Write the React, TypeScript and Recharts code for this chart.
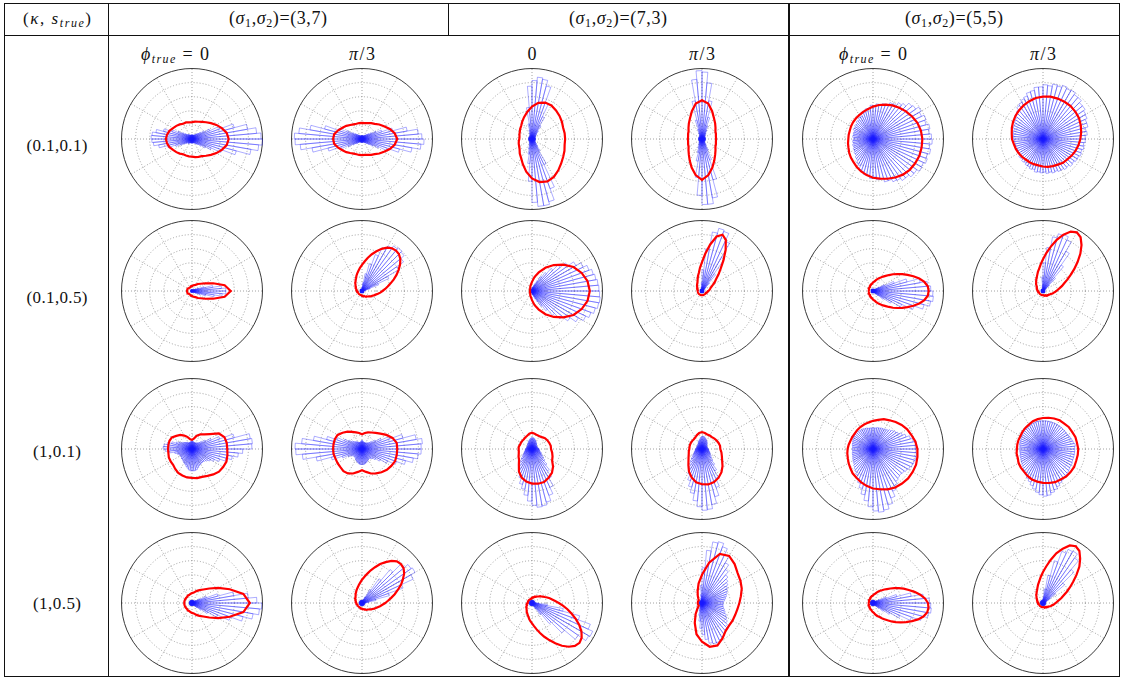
import React from 'react';
import { RadarChart, Radar, PolarGrid, PolarAngleAxis, PolarRadiusAxis } from 'recharts';

// ---------- labels ----------
const rowLabels = ['(0.1,0.1)', '(0.1,0.5)', '(1,0.1)', '(1,0.5)'];
const sigmaPairs = ['(3,7)', '(7,3)', '(5,5)'];
const phiLabels = ['phi0', 'pi3', '0', 'pi3', 'phi0', 'pi3'];

// ---------- red curves: radius (fraction of outer ring), evenly spaced angles from 0 deg ----------
const curve11 = [.52,.50,.45,.40,.35,.31,.28,.26,.25,.24,.24,.25,.25,.27,.29,.31,.34,.36,.37,.36,.34,.31,.29,.27,.25,.25,.25,.25,.26,.27,.28,.31,.35,.40,.45,.50];
const curve12 = [.50,.47,.42,.36,.32,.28,.26,.24,.23,.23,.23,.23,.24,.26,.29,.32,.36,.40,.41,.40,.36,.32,.29,.26,.24,.23,.23,.23,.23,.24,.26,.28,.32,.36,.42,.47];
const curve13 = [.47,.47,.47,.49,.51,.53,.55,.55,.52,.46,.39,.33,.28,.24,.22,.20,.19,.18,.18,.19,.20,.21,.23,.27,.31,.38,.47,.56,.62,.64,.62,.58,.54,.51,.49,.47];
const curve14 = [.20,.20,.21,.22,.25,.29,.34,.42,.51,.55,.51,.42,.34,.29,.25,.22,.21,.20,.20,.20,.21,.22,.25,.29,.35,.43,.52,.58,.52,.43,.35,.29,.25,.22,.21,.20];
const curve15 = [.70,.69,.67,.64,.61,.58,.55,.52,.49,.46,.43,.41,.39,.38,.37,.36,.35,.35,.35,.36,.37,.39,.41,.43,.46,.49,.52,.55,.57,.60,.63,.66,.68,.69,.70,.70];
const curve16 = [.53,.55,.57,.59,.60,.61,.61,.61,.61,.60,.59,.57,.55,.53,.51,.49,.47,.45,.44,.42,.41,.40,.39,.38,.38,.38,.38,.39,.40,.41,.42,.44,.45,.47,.49,.51];

const curve21 = [.55,.47,.32,.22,.16,.13,.10,.09,.08,.07,.07,.06,.06,.06,.06,.07,.07,.07,.07,.07,.07,.07,.06,.06,.06,.06,.07,.07,.08,.09,.10,.13,.16,.22,.32,.47];
const curve22 = [.29,.33,.37,.42,.48,.54,.60,.66,.71,.74,
  .75,.74,.71,.66,.60,.54,.48,.42,.37,.33,.29,.26,.23,.20,.18,.16,.15,.13,.12,.11,.10,.10,.09,.08,.08,.08,.07,.07,.07,.06,.06,.06,.06,.06,.06,.06,.06,
  .06,.06,.06,.06,.06,.06,.06,.07,.07,.07,.08,.08,.08,.09,.10,.10,.11,.12,.13,.15,.16,.18,.20,.23,.26];
const curve23 = [.82,.80,.75,.68,.58,.48,.38,.28,.20,.13,.09,.07,.05,.04,.04,.03,.03,.03,.03,.03,.03,.03,.04,.04,.05,.07,.09,.13,.20,.28,.38,.48,.58,.68,.75,.80];
const curve24 = [.09,.10,.11,.12,.13,.15,.18,.22,.26,.33,.41,.53,.67,.80,
  .85,.80,.67,.53,.41,.33,.26,.22,.18,.15,.13,.12,.11,.10,.09,.08,.08,.07,.07,.07,
  .06,.06,.06,.06,.06,.06,.06,.06,.06,.06,.06,.06,.06,.06,.06,.06,.06,
  .06,.06,.06,.06,.06,.06,.06,.06,.06,.06,.06,.06,.06,.06,.06,.06,.07,.07,.07,.08,.08];
const curve25 = [.79,.78,.74,.68,.61,.54,.48,.42,.37,.32,.28,.25,.22,.20,.18,.16,.14,.13,.12,.11,.10,.10,.09,.09,.08,.08,.07,.07,.07,.07,.07,.06,.06,.06,.06,.06,.06,
  .06,.06,.06,.06,.06,.07,.07,.07,.07,.07,.08,.08,.09,.09,.10,.10,.11,.12,.13,.14,.16,.18,.20,.22,.25,.28,.32,.37,.42,.48,.54,.61,.68,.74,.78];
const curve26 = [.19,.21,.24,.28,.32,.38,.45,.54,.64,.75,.85,.93,
  .96,.93,.85,.75,.64,.54,.45,.38,.32,.28,.24,.21,.19,.17,.15,.14,.12,.11,.10,.10,.09,.09,.08,.08,.07,.07,.07,.07,.06,.06,.06,.06,.06,.06,.06,.06,.06,
  .06,.06,.06,.06,.06,.06,.06,.06,.07,.07,.07,.07,.08,.08,.09,.09,.10,.10,.11,.12,.14,.15,.17];

const curve31 = [.50,.50,.49,.44,.33,.27,.24,.20,.15,.13,.14,.18,.22,.26,.29,.33,.34,.34,.34,.34,.35,.35,.35,.37,.39,.40,.41,.41,.42,.42,.44,.47,.50,.51,.52,.51];
const curve32 = [.50,.50,.46,.40,.34,.30,.27,.25,.23,.21,.23,.25,.28,.32,.36,.40,.41,.41,.41,.41,.40,.40,.40,.41,.40,.37,.33,.30,.33,.37,.40,.43,.46,.48,.50,.50];
const curve33 = [.27,.27,.26,.25,.24,.22,.21,.21,.22,.23,.22,.20,.19,.18,.18,.18,.18,.19,.19,.19,.20,.22,.24,.29,.37,.43,.47,.49,.50,.50,.47,.44,.39,.33,.31,.29];
const curve34 = [.26,.26,.25,.24,.23,.22,.22,.22,.23,.24,.23,.21,.19,.18,.18,.18,.18,.18,.18,.19,.20,.22,.25,.30,.37,.43,.48,.50,.51,.50,.47,.43,.38,.33,.30,.28];
const curve35 = [.63,.61,.58,.56,.53,.50,.47,.45,.42,.40,.38,.37,.36,.35,.34,.34,.34,.35,.36,.37,.38,.40,.42,.45,.47,.50,.53,.56,.58,.61,.63,.64,.65,.65,.65,.64];
const curve36 = [.50,.49,.49,.48,.48,.47,.47,.46,.45,.44,.43,.42,.40,.39,.38,.37,.37,.37,.37,.38,.38,.40,.41,.42,.44,.46,.47,.48,.49,.50,.50,.51,.51,.51,.50,.50];

const curve41 = [.82,.74,.57,.43,.32,.25,.21,.18,.15,.14,.13,.12,.12,.11,.11,.11,.11,.11,.11,.11,.11,.11,.11,.11,.12,.12,.13,.14,.15,.18,.21,.25,.32,.43,.57,.74];
const curve42 = [.33,.37,.42,.48,.54,.61,.67,.73,.77,
  .78,.77,.73,.67,.61,.54,.48,.42,.37,.33,.29,.26,.23,.21,.19,.17,.16,.14,.13,.12,.12,.11,.10,.10,.09,.09,.09,.08,.08,.08,.08,.07,.07,.07,.07,.07,.07,
  .07,.07,.07,.07,.07,.08,.08,.08,.08,.09,.09,.09,.10,.10,.11,.12,.12,.13,.14,.16,.17,.19,.21,.23,.26,.29];
const curve43 = [.38,.33,.29,.26,.23,.20,.18,.16,.15,.13,.12,.11,.10,.10,.09,.08,.08,.08,.07,.07,.06,.06,.06,.06,.06,.06,.06,.06,.06,
  .06,.06,.06,.06,.06,.06,.06,.06,.07,.07,.08,.08,.08,.09,.10,.10,.11,.12,.13,.15,.16,.18,.20,.23,.26,.29,.33,.38,.44,.51,.58,.66,.74,.81,.86,
  .88,.86,.81,.74,.66,.58,.51,.44];
const curve44 = [.53,.56,.60,.63,.66,.72,.77,.74,.58,.40,.28,.18,.12,.08,.06,.06,.06,.06,.06,.06,.06,.06,.06,.10,.18,.30,.45,.55,.63,.64,.58,.52,.50,.50,.50,.51];
const curve45 = [.78,.74,.68,.61,.54,.48,.42,.37,.32,.28,.25,.22,.20,.18,.16,.14,.13,.12,.11,.10,.10,.09,.09,.08,.08,.07,.07,.07,.07,.07,.06,.06,.06,.06,.06,.06,
  .06,.06,.06,.06,.06,.07,.07,.07,.07,.07,.08,.08,.09,.09,.10,.10,.11,.12,.13,.14,.16,.18,.20,.22,.25,.28,.32,.37,.42,.48,.54,.61,.68,.74,.78,.79];
const curve46 = [.18,.20,.23,.27,.31,.37,.44,.52,.62,.73,.82,.90,
  .93,.90,.82,.73,.62,.52,.44,.37,.31,.27,.23,.20,.18,.16,.15,.13,.12,.11,.10,.09,.09,.08,.08,.07,.07,.07,.07,.06,.06,.06,.06,.06,.06,.06,.06,.06,.06,
  .06,.06,.06,.06,.06,.06,.06,.06,.06,.07,.07,.07,.07,.08,.08,.09,.09,.10,.11,.12,.13,.15,.16];

// ---------- blue rose histograms: 72 bins of 5 deg, 0..360 ----------
const rose11 = [.98,.92,.80,.62,.42,.28,.20,.15,.12,.10,.08,.08,.06,.06,.06,.06,.06,.06,
  .06,.06,.06,.06,.06,.06,.08,.08,.08,.10,.12,.16,.22,.30,.42,.52,.57,.58,
  .57,.55,.48,.36,.25,.18,.13,.10,.08,.08,.08,.08,.06,.06,.06,.06,.06,.06,
  .06,.06,.06,.06,.06,.06,.08,.08,.10,.12,.16,.22,.30,.45,.65,.85,.95,1.0];
const rose12 = [.85,.80,.65,.45,.30,.22,.16,.12,.10,.08,.07,.06,.05,.05,.05,.05,.05,.05,
  .05,.05,.05,.05,.05,.05,.06,.07,.08,.10,.12,.16,.24,.36,.55,.75,.90,.96,
  .95,.88,.72,.50,.32,.22,.15,.11,.09,.07,.06,.05,.05,.05,.05,.05,.05,.05,
  .05,.05,.05,.05,.05,.05,.06,.07,.08,.10,.13,.18,.26,.38,.55,.72,.84,.88];
const rose13 = [.05,.05,.05,.05,.05,.05,.06,.07,.08,.10,.14,.22,.35,.55,.78,.86,.88,.83,
  .75,.45,.22,.13,.09,.07,.06,.05,.05,.05,.05,.05,.05,.05,.05,.05,.05,.05,
  .05,.05,.05,.05,.05,.05,.05,.05,.05,.05,.06,.07,.08,.10,.15,.22,.35,.60,
  .90,.96,.96,.92,.75,.40,.20,.13,.09,.07,.06,.05,.05,.05,.05,.05,.05,.05];
const rose14 = [.05,.05,.05,.05,.05,.05,.05,.05,.06,.07,.08,.10,.14,.20,.32,.55,.80,.95,
  .97,.85,.55,.28,.15,.10,.07,.06,.05,.05,.05,.05,.05,.05,.05,.05,.05,.05,
  .05,.05,.05,.05,.05,.05,.05,.05,.05,.06,.07,.08,.10,.14,.20,.32,.55,.80,
  .93,.93,.85,.60,.32,.18,.11,.08,.06,.05,.05,.05,.05,.05,.05,.05,.05,.05];
const rose15 = [.83,.80,.82,.78,.80,.76,.79,.74,.72,.66,.63,.58,.57,.53,.52,.49,.50,.47,
  .48,.44,.44,.40,.40,.36,.36,.33,.34,.31,.32,.30,.31,.28,.29,.28,.29,.27,
  .28,.29,.28,.30,.29,.31,.31,.33,.33,.36,.37,.41,.42,.47,.48,.52,.52,.56,
  .54,.58,.58,.63,.63,.67,.68,.72,.72,.76,.76,.80,.79,.82,.80,.83,.81,.84];
const rose16 = [.60,.63,.62,.66,.66,.69,.70,.73,.73,.77,.77,.80,.79,.81,.78,.79,.76,.77,
  .74,.74,.70,.69,.65,.63,.60,.58,.54,.52,.48,.47,.45,.45,.43,.43,.42,.42,
  .41,.42,.40,.41,.39,.41,.40,.42,.41,.43,.42,.44,.44,.46,.45,.48,.47,.48,
  .47,.49,.48,.50,.49,.51,.51,.53,.52,.55,.54,.56,.56,.58,.57,.59,.58,.60];

const rose21 = [.48,.42,.30,.18,.10,.06,.04,.03,.03,.02,.02,.02,.02,.02,.02,.02,.02,.02,
  .02,.02,.02,.02,.02,.02,.02,.02,.02,.02,.02,.02,.02,.02,.02,.02,.02,.02,
  .02,.02,.02,.02,.02,.02,.02,.02,.02,.02,.02,.02,.02,.02,.02,.02,.02,.02,
  .02,.02,.02,.02,.02,.02,.02,.02,.02,.03,.03,.04,.07,.12,.20,.32,.43,.48];
const rose22 = [.03,.04,.06,.12,.25,.42,.60,.72,.78,.80,.78,.74,.68,.55,.40,.25,.12,.06,
  .04,.03,.03,.03,.03,.03,.03,.03,.03,.03,.03,.03,.03,.03,.03,.03,.03,.03,
  .03,.03,.03,.03,.03,.03,.03,.03,.03,.03,.03,.03,.03,.03,.03,.03,.03,.03,
  .03,.03,.03,.03,.03,.03,.03,.03,.03,.03,.03,.03,.03,.03,.03,.03,.03,.03];
const rose23 = [.95,.94,.92,.90,.86,.80,.72,.62,.52,.42,.32,.24,.16,.11,.08,.06,.05,.04,
  .03,.03,.03,.03,.03,.03,.03,.03,.03,.03,.03,.03,.03,.03,.03,.03,.03,.03,
  .03,.03,.03,.03,.03,.03,.03,.03,.03,.03,.03,.03,.03,.03,.03,.03,.03,.03,
  .04,.05,.06,.08,.12,.17,.25,.34,.45,.56,.66,.76,.84,.89,.93,.96,.97,.96];
const rose24 = [.03,.03,.03,.03,.03,.03,.04,.05,.08,.15,.30,.55,.78,.90,.92,.85,.60,.30,
  .12,.06,.04,.03,.03,.03,.03,.03,.03,.03,.03,.03,.03,.03,.03,.03,.03,.03,
  .03,.03,.03,.03,.03,.03,.03,.03,.03,.03,.03,.03,.03,.03,.03,.03,.03,.03,
  .03,.03,.03,.03,.03,.03,.03,.03,.03,.03,.03,.03,.03,.03,.03,.03,.03,.03];
const rose25 = [.82,.78,.68,.50,.32,.18,.10,.06,.04,.03,.03,.03,.03,.03,.03,.03,.03,.03,
  .03,.03,.03,.03,.03,.03,.03,.03,.03,.03,.03,.03,.03,.03,.03,.03,.03,.03,
  .03,.03,.03,.03,.03,.03,.03,.03,.03,.03,.03,.03,.03,.03,.03,.03,.03,.03,
  .03,.03,.03,.03,.03,.03,.03,.04,.06,.10,.18,.30,.45,.62,.75,.83,.86,.85];
const rose26 = [.03,.03,.03,.03,.03,.03,.04,.06,.12,.25,.45,.65,.80,.85,.84,.78,.62,.40,
  .20,.08,.04,.03,.03,.03,.03,.03,.03,.03,.03,.03,.03,.03,.03,.03,.03,.03,
  .03,.03,.03,.03,.03,.03,.03,.03,.03,.03,.03,.03,.03,.03,.03,.03,.03,.03,
  .03,.03,.03,.03,.03,.03,.03,.03,.03,.03,.03,.03,.03,.03,.03,.03,.03,.03];

const rose31 = [.85,.86,.84,.62,.42,.30,.22,.17,.14,.12,.11,.10,.10,.10,.10,.10,.11,.12,
  .12,.11,.10,.10,.10,.10,.11,.12,.13,.14,.15,.17,.20,.24,.30,.36,.40,.41,
  .38,.32,.25,.22,.20,.19,.19,.19,.20,.20,.21,.22,.23,.24,.26,.28,.30,.31,
  .31,.31,.30,.28,.26,.25,.24,.24,.24,.25,.27,.30,.35,.42,.50,.58,.66,.72];
const rose32 = [.84,.86,.78,.60,.42,.30,.22,.17,.14,.12,.11,.10,.10,.10,.10,.10,.11,.12,
  .12,.11,.10,.10,.10,.11,.12,.13,.14,.16,.18,.22,.28,.38,.52,.70,.86,.95,
  .94,.85,.66,.45,.30,.22,.18,.16,.15,.15,.16,.17,.18,.19,.20,.21,.22,.22,
  .22,.22,.21,.20,.19,.18,.17,.17,.18,.20,.24,.30,.40,.52,.64,.74,.80,.84];
const rose33 = [.10,.09,.08,.08,.08,.08,.08,.08,.09,.10,.10,.11,.12,.13,.14,.15,.16,.16,
  .16,.15,.14,.13,.12,.11,.10,.10,.09,.09,.08,.08,.08,.08,.08,.08,.08,.09,
  .09,.10,.10,.11,.12,.13,.15,.17,.20,.24,.28,.33,.38,.44,.52,.58,.66,.74,
  .80,.83,.82,.78,.70,.60,.48,.38,.30,.24,.20,.17,.15,.14,.12,.11,.11,.10];
const rose34 = [.09,.08,.08,.08,.08,.08,.08,.09,.10,.11,.12,.13,.14,.15,.16,.17,.18,.18,
  .17,.16,.14,.13,.12,.11,.10,.09,.09,.08,.08,.08,.08,.08,.08,.08,.08,.09,
  .09,.10,.10,.11,.12,.13,.15,.17,.20,.24,.28,.33,.40,.48,.56,.64,.74,.82,
  .87,.86,.80,.70,.58,.46,.36,.28,.22,.18,.16,.14,.13,.12,.11,.10,.10,.09];
const rose35 = [.60,.62,.58,.55,.50,.46,.42,.40,.38,.36,.34,.33,.32,.32,.31,.31,.30,.30,
  .30,.30,.30,.31,.31,.32,.32,.32,.33,.33,.33,.32,.32,.31,.30,.30,.29,.29,
  .29,.29,.30,.30,.31,.32,.33,.34,.36,.38,.40,.43,.47,.52,.58,.66,.74,.82,
  .88,.90,.88,.82,.74,.66,.60,.56,.54,.53,.54,.56,.58,.60,.61,.62,.62,.61];
const rose36 = [.45,.46,.44,.43,.42,.41,.40,.40,.40,.40,.40,.40,.40,.40,.40,.40,.40,.40,
  .40,.40,.40,.39,.39,.38,.38,.37,.37,.36,.36,.35,.35,.34,.34,.34,.33,.33,
  .33,.33,.33,.34,.34,.35,.36,.37,.38,.40,.42,.44,.47,.50,.54,.58,.62,.65,
  .67,.66,.63,.60,.57,.54,.52,.50,.49,.48,.47,.46,.46,.45,.45,.45,.45,.45];

const rose41 = [.92,.80,.60,.38,.22,.12,.07,.05,.04,.04,.04,.04,.04,.04,.04,.04,.04,.04,
  .04,.04,.04,.04,.04,.04,.04,.04,.04,.04,.04,.04,.04,.04,.04,.04,.04,.04,
  .04,.04,.04,.04,.04,.04,.04,.04,.04,.04,.04,.04,.04,.04,.04,.04,.04,.04,
  .04,.04,.04,.04,.04,.04,.04,.05,.07,.10,.16,.26,.40,.58,.75,.88,.96,.99];
const rose42 = [.06,.10,.20,.40,.62,.80,.87,.85,.78,.62,.42,.22,.10,.06,.04,.04,.04,.04,
  .04,.04,.04,.04,.04,.04,.04,.04,.04,.04,.04,.04,.04,.04,.04,.04,.04,.04,
  .04,.04,.04,.04,.04,.04,.04,.04,.04,.04,.04,.04,.04,.04,.04,.04,.04,.04,
  .04,.04,.04,.04,.04,.04,.04,.04,.04,.04,.04,.04,.04,.04,.04,.04,.04,.04];
const rose43 = [.06,.04,.04,.04,.04,.04,.04,.04,.04,.04,.04,.04,.04,.04,.04,.04,.04,.04,
  .04,.04,.04,.04,.04,.04,.04,.04,.04,.04,.04,.04,.04,.04,.04,.04,.04,.04,
  .04,.04,.04,.04,.04,.04,.04,.04,.04,.04,.04,.04,.04,.04,.04,.04,.04,.04,
  .04,.04,.04,.04,.04,.06,.10,.20,.38,.60,.80,.93,.95,.88,.70,.45,.22,.10];
const rose44 = [.30,.32,.34,.36,.38,.40,.42,.45,.48,.52,.58,.66,.76,.85,.90,.88,.75,.50,
  .25,.12,.07,.05,.04,.04,.04,.04,.04,.04,.04,.04,.04,.04,.04,.04,.04,.04,
  .04,.04,.04,.04,.04,.04,.04,.04,.04,.04,.04,.05,.06,.08,.12,.18,.26,.36,
  .45,.52,.58,.60,.60,.58,.56,.53,.50,.47,.44,.41,.38,.35,.33,.31,.30,.30];
const rose45 = [.80,.72,.55,.35,.20,.10,.06,.04,.04,.04,.04,.04,.04,.04,.04,.04,.04,.04,
  .04,.04,.04,.04,.04,.04,.04,.04,.04,.04,.04,.04,.04,.04,.04,.04,.04,.04,
  .04,.04,.04,.04,.04,.04,.04,.04,.04,.04,.04,.04,.04,.04,.04,.04,.04,.04,
  .04,.04,.04,.04,.04,.04,.04,.05,.07,.11,.18,.28,.42,.58,.72,.80,.83,.82];
const rose46 = [.04,.04,.04,.04,.05,.07,.12,.22,.40,.62,.78,.85,.84,.78,.62,.40,.20,.08,
  .05,.04,.04,.04,.04,.04,.04,.04,.04,.04,.04,.04,.04,.04,.04,.04,.04,.04,
  .04,.04,.04,.04,.04,.04,.04,.04,.04,.04,.04,.04,.04,.04,.04,.04,.04,.04,
  .04,.04,.04,.04,.04,.04,.04,.04,.04,.04,.04,.04,.04,.04,.04,.04,.04,.04];

const roseRows = [
  [rose11, rose12, rose13, rose14, rose15, rose16],
  [rose21, rose22, rose23, rose24, rose25, rose26],
  [rose31, rose32, rose33, rose34, rose35, rose36],
  [rose41, rose42, rose43, rose44, rose45, rose46],
];
const curveRows = [
  [curve11, curve12, curve13, curve14, curve15, curve16],
  [curve21, curve22, curve23, curve24, curve25, curve26],
  [curve31, curve32, curve33, curve34, curve35, curve36],
  [curve41, curve42, curve43, curve44, curve45, curve46],
];

// ---------- layout ----------
const colX = [192, 362, 532, 702, 873, 1043];
const rowY = [139, 291, 449, 603];
const OUTER = 70.5;
const SIZE = 150;
const gridAngles = [0, 30, 60, 90, 120, 150, 180, 210, 240, 270, 300, 330];
const gridRadii = [OUTER * 0.2, OUTER * 0.4, OUTER * 0.6, OUTER * 0.8];
const FONT = '"Liberation Serif", "DejaVu Serif", serif';

function buildRose(bins: number[]) {
  const w = 360 / bins.length;
  const pts: { a: number; r: number }[] = [];
  bins.forEach((v, i) => {
    pts.push({ a: i * w, r: 0 });
    pts.push({ a: i * w, r: v });
    pts.push({ a: (i + 1) * w, r: v });
  });
  return pts;
}

function buildCurve(vals: number[]) {
  const step = 360 / vals.length;
  return vals.map((v, i) => ({ a: i * step, r: v }));
}

const chartCommon = {
  width: SIZE,
  height: SIZE,
  cx: SIZE / 2,
  cy: SIZE / 2,
  innerRadius: 0,
  outerRadius: OUTER,
  startAngle: 0,
  endAngle: 360,
  margin: { top: 0, right: 0, bottom: 0, left: 0 },
};

function PolarCell({ x, y, bins, curve }: { x: number; y: number; bins: number[]; curve: number[] }) {
  const roseData = buildRose(bins);
  const curveData = buildCurve(curve);
  return (
    <div style={{ position: 'absolute', left: x - SIZE / 2, top: y - SIZE / 2, width: SIZE, height: SIZE }}>
      <div style={{ position: 'absolute', left: 0, top: 0 }}>
        <RadarChart {...chartCommon} data={roseData}>
          <PolarGrid gridType="circle" polarAngles={gridAngles} polarRadius={gridRadii}
            stroke="#8c8c8c" strokeDasharray="1 2" strokeWidth={0.8} />
          <PolarGrid gridType="circle" polarAngles={[0]} radialLines={false} polarRadius={[OUTER]}
            stroke="#3a3a3a" strokeWidth={1} />
          <PolarAngleAxis dataKey="a" type="number" domain={[0, 360]} tick={false} axisLine={false} />
          <PolarRadiusAxis type="number" domain={[0, 1]} tick={false} axisLine={false} />
          <Radar dataKey="r" stroke="#1a1aff" strokeWidth={0.6} strokeOpacity={0.6}
            fill="none" fillOpacity={0} dot={false} isAnimationActive={false} />
        </RadarChart>
      </div>
      <div style={{ position: 'absolute', left: 0, top: 0 }}>
        <RadarChart {...chartCommon} data={curveData}>
          <PolarAngleAxis dataKey="a" type="number" domain={[0, 360]} tick={false} axisLine={false} />
          <PolarRadiusAxis type="number" domain={[0, 1]} tick={false} axisLine={false} />
          <Radar dataKey="r" stroke="#ff0000" strokeWidth={2.2} fill="none" fillOpacity={0}
            dot={false} isAnimationActive={false} />
        </RadarChart>
      </div>
    </div>
  );
}

function Line({ x, y, w, h, c = '#111' }: { x: number; y: number; w: number; h: number; c?: string }) {
  return <div style={{ position: 'absolute', left: x, top: y, width: w, height: h, background: c }} />;
}

const SUB = 12;

function SigmaText({ x, pair }: { x: number; pair: string }) {
  return (
    <text x={x} y={24} textAnchor="middle" fontSize={18} textLength={98} lengthAdjust="spacing">
      <tspan>(</tspan><tspan fontStyle="italic">σ</tspan><tspan fontSize={SUB} dy={3}>1</tspan><tspan dy={-3}>,</tspan><tspan fontStyle="italic">σ</tspan><tspan fontSize={SUB} dy={3}>2</tspan><tspan dy={-3}>{')=' + pair}</tspan>
    </text>
  );
}

function PhiText({ x, kind }: { x: number; kind: string }) {
  if (kind === 'phi0') {
    return (
      <text x={x} y={60} textAnchor="middle" fontSize={18} textLength={68} lengthAdjust="spacing">
        <tspan fontStyle="italic">ϕ</tspan><tspan fontStyle="italic" fontSize={SUB} dy={3}>true</tspan><tspan dy={-3}> = 0</tspan>
      </text>
    );
  }
  if (kind === 'pi3') {
    return (
      <text x={x} y={60} textAnchor="middle" fontSize={18} textLength={26} lengthAdjust="spacing">
        <tspan fontStyle="italic">π</tspan><tspan>/3</tspan>
      </text>
    );
  }
  return <text x={x} y={60} textAnchor="middle" fontSize={18}>{kind}</text>;
}

export default function App() {
  const sigmaX = [278, 618, 954];
  const phiX = [175, 362, 532, 702, 873, 1043];
  const rowLabelY = [151, 303, 457, 609];
  const rowLabelW = [61, 61, 48, 48];
  return (
    <div style={{ position: 'absolute', left: 0, top: 0, width: 1123, height: 678, background: '#fff', overflow: 'hidden' }}>
      {/* table rules */}
      <Line x={4} y={3} w={1116} h={1} />
      <Line x={4} y={35} w={1116} h={1} />
      <Line x={4} y={676} w={1116} h={1} />
      <Line x={4} y={3} w={1} h={674} />
      <Line x={108} y={3} w={1} h={674} />
      <Line x={448} y={3} w={1} h={33} />
      <Line x={788} y={3} w={2} h={674} />
      <Line x={1119} y={3} w={1} h={674} />

      {/* polar plots */}
      {rowY.map((cy, r) =>
        colX.map((cx, c) => (
          <PolarCell key={`${r}-${c}`} x={cx} y={cy} bins={roseRows[r][c]} curve={curveRows[r][c]} />
        ))
      )}

      {/* text */}
      <svg width={1123} height={678} style={{ position: 'absolute', left: 0, top: 0, pointerEvents: 'none' }}
        fontFamily={FONT} fontSize={17} fill="#111">
        <text x={57} y={24} textAnchor="middle" textLength={68} lengthAdjust="spacing">
          <tspan>(</tspan><tspan fontStyle="italic">κ</tspan><tspan>, </tspan><tspan fontStyle="italic">s</tspan><tspan fontStyle="italic" fontSize={SUB} dy={3}>true</tspan><tspan dy={-3}>)</tspan>
        </text>
        {sigmaPairs.map((p, i) => <SigmaText key={'s' + i} x={sigmaX[i]} pair={p} />)}
        {phiLabels.map((k, i) => <PhiText key={'p' + i} x={phiX[i]} kind={k} />)}
        {rowLabels.map((t, i) => (
          <text key={t} x={57} y={rowLabelY[i]} textAnchor="middle" textLength={rowLabelW[i]} lengthAdjust="spacing">{t}</text>
        ))}
      </svg>
    </div>
  );
}
